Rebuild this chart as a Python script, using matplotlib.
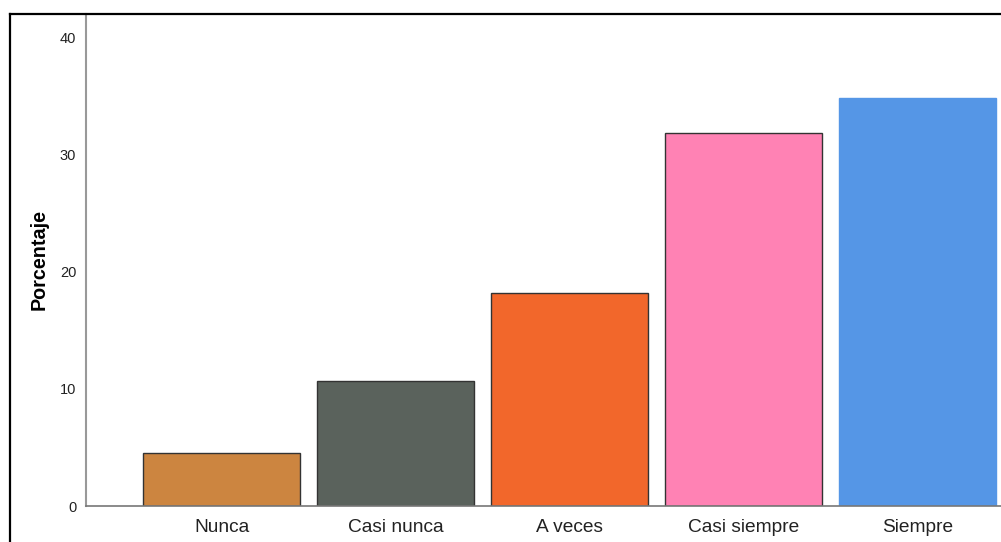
import numpy as np
import matplotlib.pyplot as plt
from matplotlib.lines import Line2D

categorias = ["Nunca", "Casi nunca", "A veces", "Casi siempre", "Siempre"]
porcentajes = [4.5, 10.7, 18.2, 31.8, 34.8]
colores = ["#CC8540", "#5A625C", "#F2672B", "#FF82B4", "#5596E6"]
bordes = ["#333333", "#333333", "#333333", "#333333", "#5596E6"]
yticks = [0, 10, 20, 30, 40]

plt.rcParams['font.family'] = ['Liberation Sans', 'DejaVu Sans']

W, H = 1001, 542
fig = plt.figure(figsize=(W / 100, H / 100), dpi=100)
ax = fig.add_axes([86 / W, 36 / H, (W - 86) / W, (506 - 14) / H])

x = np.arange(len(categorias))
ax.bar(x, porcentajes, width=0.9, color=colores, edgecolor=bordes, linewidth=1.0, zorder=2)

ax.set_xlim(-0.78, 4.48)
ax.set_ylim(0, 42)
ax.set_yticks(yticks)
ax.set_yticklabels([str(t) for t in yticks], fontsize=10.5, color="#222222")
ax.set_xticks(x)
ax.set_xticklabels(categorias, fontsize=13.8, color="#222222")
ax.tick_params(axis='y', length=0, pad=7)
ax.tick_params(axis='x', length=0, pad=9)

ax.set_ylabel("Porcentaje", fontsize=14.2, fontweight='bold', labelpad=8)

for lado in ["top", "right"]:
    ax.spines[lado].set_visible(False)
ax.spines["left"].set_color("#999999")
ax.spines["left"].set_linewidth(1.5)
ax.spines["bottom"].set_color("#777777")
ax.spines["bottom"].set_linewidth(1.2)

# marco negro de la figura (recortado a la derecha y abajo)
fig.add_artist(Line2D([9.5 / W, 9.5 / W], [0, 1 - 14 / H], transform=fig.transFigure,
                      color="black", linewidth=1.6))
fig.add_artist(Line2D([9.5 / W, 1], [1 - 14 / H, 1 - 14 / H], transform=fig.transFigure,
                      color="black", linewidth=1.6))

fig.savefig("out.png", dpi=100)
